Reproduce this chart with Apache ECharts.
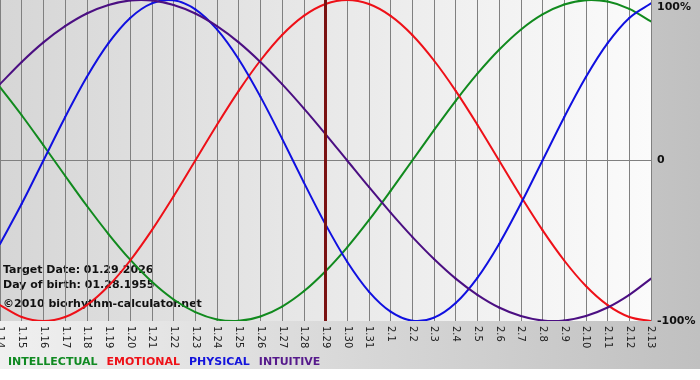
<!DOCTYPE html>
<html>
<head>
<meta charset="utf-8">
<script src="https://cdn.jsdelivr.net/npm/echarts@6/dist/echarts.min.js"></script>
<style>
html,body{margin:0;padding:0;background:#ffffff;}
#chart{width:700px;height:369px;background:linear-gradient(to right,#f0f0f0,#c0c0c0);}
</style>
</head>
<body>
<div id="chart"></div>
<script>
var categories = ['1.14','1.15','1.16','1.17','1.18','1.19','1.20','1.21','1.22','1.23','1.24','1.25','1.26','1.27','1.28','1.29','1.30','1.31','2.1','2.2','2.3','2.4','2.5','2.6','2.7','2.8','2.9','2.10','2.11','2.12','2.13'];
var intellectual = [45.8,28.2,9.5,-9.5,-28.2,-45.8,-61.8,-75.6,-86.6,-94.5,-99.0,-99.9,-97.2,-91.0,-81.5,-69.0,-54.1,-37.2,-18.9,0,18.9,37.2,54.1,69.0,81.5,91.0,97.2,99.9,99.0,94.5,86.6];
var emotional = [-90.1,-97.5,-100,-97.5,-90.1,-78.2,-62.3,-43.4,-22.3,0,22.3,43.4,62.3,78.2,90.1,97.5,100,97.5,90.1,78.2,62.3,43.4,22.3,0,-22.3,-43.4,-62.3,-78.2,-90.1,-97.5,-100];
var physical = [-52.0,-27.0,0,27.0,52.0,73.1,88.8,97.9,99.8,94.2,81.7,63.1,39.8,13.6,-13.6,-39.8,-63.1,-81.7,-94.2,-99.8,-97.9,-88.8,-73.1,-52.0,-27.0,0,27.0,52.0,73.1,88.8,97.9];
var intuitive = [47.6,61.4,73.6,83.7,91.6,96.9,99.7,99.7,96.9,91.6,83.7,73.6,61.4,47.6,32.5,16.5,0,-16.5,-32.5,-47.6,-61.4,-73.6,-83.7,-91.6,-96.9,-99.7,-99.7,-96.9,-91.6,-83.7,-73.6];
var yTicks = [-100, 0, 100];
var yTickLabels = ['-100%', '0', '100%'];
var targetDate = '1.29';
var infoLines = ['Target Date: 01.29.2026', 'Day of birth: 01.28.1955', '\u00a92010 biorhythm-calculator.net'];

var chart = echarts.init(document.getElementById('chart'), null, {renderer:'canvas'});
var font = 'DejaVu Sans, Verdana, sans-serif';

// Smooth curve drawn segment by segment (Catmull-Rom), every point placed via api.coord
function makeRenderItem(color) {
  return function(params, api) {
    var i = params.dataIndexInside;
    var n = params.dataInsideLength;
    if (i >= n - 1) return null;
    function pt(j) { return api.coord([api.value(0, j), api.value(1, j)]); }
    var p1 = pt(i), p2 = pt(i + 1);
    var p0 = i > 0 ? pt(i - 1) : [2 * p1[0] - p2[0], 2 * p1[1] - p2[1]];
    var p3 = i + 2 < n ? pt(i + 2) : [2 * p2[0] - p1[0], 2 * p2[1] - p1[1]];
    return {
      type: 'bezierCurve',
      shape: {
        x1: p1[0], y1: p1[1], x2: p2[0], y2: p2[1],
        cpx1: p1[0] + (p2[0] - p0[0]) / 6, cpy1: p1[1] + (p2[1] - p0[1]) / 6,
        cpx2: p2[0] - (p3[0] - p1[0]) / 6, cpy2: p2[1] - (p3[1] - p1[1]) / 6
      },
      style: {stroke: color, lineWidth: 2, fill: null, lineCap: 'round'},
      silent: true
    };
  };
}
function mkSeries(name, values, color) {
  return {
    name: name, type: 'custom', renderItem: makeRenderItem(color),
    data: values.map(function(v, i) { return [categories[i], v]; }),
    encode: {x: 0, y: 1},
    itemStyle: {color: color},
    clip: true, silent: true, animation: false
  };
}
var option = {
  backgroundColor: 'transparent',
  animation: false,
  grid: {
    left: 0, right: 49, top: 0, bottom: 48, show: true, borderWidth: 0,
    containLabel: false, outerBoundsMode: 'none',
    backgroundColor: {type:'linear', x:0, y:0, x2:1, y2:0, colorStops:[{offset:0,color:'#d6d6d6'},{offset:1,color:'#fbfbfb'}]}
  },
  legend: {
    left: 3, top: 355, padding: 0, icon: 'none', itemWidth: 0, itemHeight: 14, itemGap: 4,
    selectedMode: false,
    textStyle: {fontFamily: font, fontSize: 11, fontWeight: 'bold'},
    data: [
      {name:'INTELLECTUAL', textStyle:{color:'#108a22'}},
      {name:'EMOTIONAL', textStyle:{color:'#ee1118'}},
      {name:'PHYSICAL', textStyle:{color:'#1414dc'}},
      {name:'INTUITIVE', textStyle:{color:'#561a8c'}}
    ]
  },
  xAxis: {
    type: 'category', data: categories, boundaryGap: false,
    axisLine: {show: false},
    axisTick: {show: true, length: 4, lineStyle: {color: '#808080'}},
    splitLine: {show: true, lineStyle: {color: '#808080', width: 1}},
    axisLabel: {rotate: -90, margin: 5, interval: 0, fontFamily: font, fontSize: 10, color: '#222'}
  },
  yAxis: {
    type: 'value', position: 'right', min: -100, max: 100, interval: 100,
    axisLine: {show: false},
    axisTick: {show: false},
    splitLine: {show: true, lineStyle: {color: ['rgba(0,0,0,0)', '#808080', 'rgba(0,0,0,0)'], width: 1}},
    axisLabel: {
      margin: 6, fontFamily: font, fontSize: 11, fontWeight: 'bold', color: '#111',
      formatter: function(v) {
        var lab = yTickLabels[yTicks.indexOf(v)];
        return v === 100 ? '{t|' + lab + '}' : lab;
      },
      rich: {t: {fontFamily: font, fontSize: 11, fontWeight: 'bold', color: '#111', padding: [14,0,0,0]}}
    }
  },
  graphic: [
    {type:'text', left: 3, top: 265, style:{text: infoLines[0], font: 'bold 11px ' + font, fill:'#111'}},
    {type:'text', left: 3, top: 280, style:{text: infoLines[1], font: 'bold 11px ' + font, fill:'#111'}},
    {type:'text', left: 3, top: 299, style:{text: infoLines[2], font: 'bold 11px ' + font, fill:'#111'}}
  ],
  series: [
    mkSeries('INTELLECTUAL', intellectual, '#118a1e'),
    mkSeries('EMOTIONAL', emotional, '#ee1018'),
    mkSeries('PHYSICAL', physical, '#1010e0'),
    mkSeries('INTUITIVE', intuitive, '#4b0f82'),
    {
      name: 'target', type: 'line', data: [], silent: true, animation: false,
      markLine: {
        silent: true, symbol: 'none', label: {show: false}, animation: false,
        lineStyle: {color: '#7a1212', width: 3, type: 'solid'},
        data: [{xAxis: targetDate}]
      }
    }
  ]
};
chart.setOption(option);
</script>
</body>
</html>
